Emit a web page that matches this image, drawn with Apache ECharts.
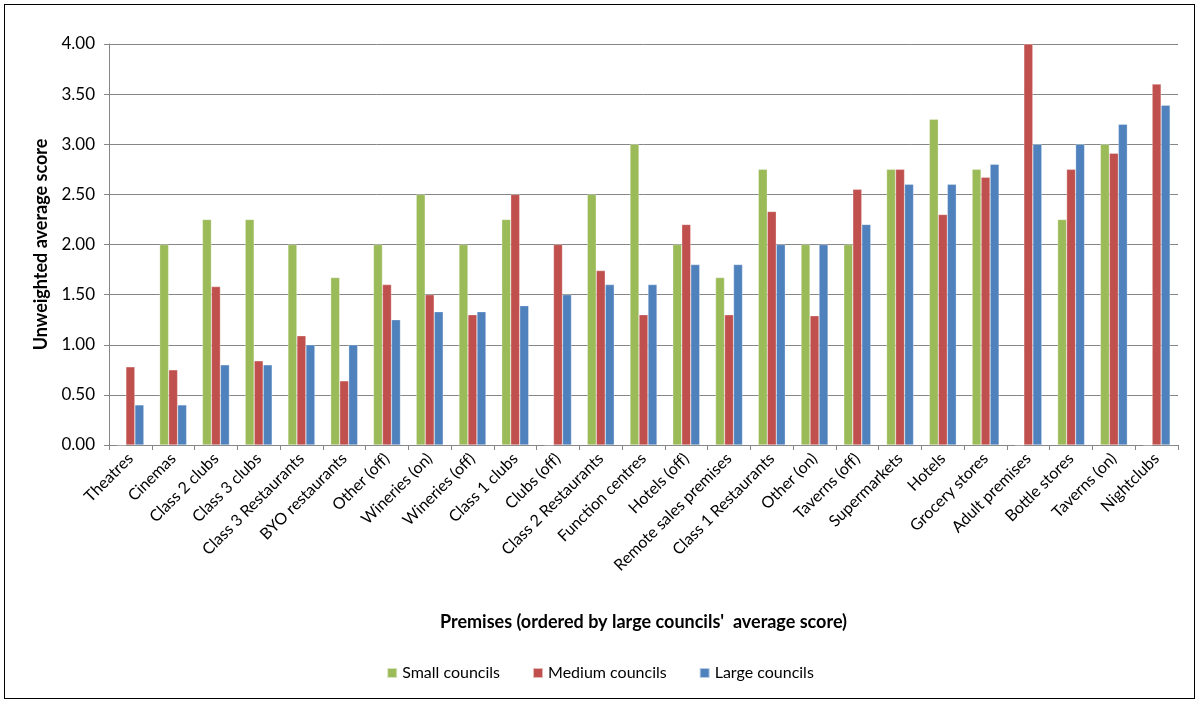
<!DOCTYPE html>
<html>
<head>
<meta charset="utf-8">
<script src="https://cdn.jsdelivr.net/npm/echarts@6/dist/echarts.min.js"></script>
<style>
  html, body { margin: 0; padding: 0; background: #fff; }
  #frame { position: absolute; left: 4px; top: 4px; width: 1191px; height: 695px; border: 1px solid #000; box-sizing: border-box; }
  #chart { width: 1200px; height: 704px; }
</style>
</head>
<body>
<div id="frame"></div>
<div id="chart"></div>
<script>
// Premise types, ordered by the large councils' average score
const categories = [
  'Theatres', 'Cinemas', 'Class 2 clubs', 'Class 3 clubs', 'Class 3 Restaurants',
  'BYO restaurants', 'Other (off)', 'Wineries (on)', 'Wineries (off)', 'Class 1 clubs',
  'Clubs (off)', 'Class 2 Restaurants', 'Function centres', 'Hotels (off)', 'Remote sales premises',
  'Class 1 Restaurants', 'Other (on)', 'Taverns (off)', 'Supermarkets', 'Hotels',
  'Grocery stores', 'Adult premises', 'Bottle stores', 'Taverns (on)', 'Nightclubs'
];

const smallCouncils = [
  0, 2.00, 2.25, 2.25, 2.00,
  1.67, 2.00, 2.50, 2.00, 2.25,
  0, 2.50, 3.00, 2.00, 1.67,
  2.75, 2.00, 2.00, 2.75, 3.25,
  2.75, 0, 2.25, 3.00, 0
];

const mediumCouncils = [
  0.78, 0.75, 1.58, 0.84, 1.09,
  0.64, 1.60, 1.50, 1.30, 2.50,
  2.00, 1.74, 1.30, 2.20, 1.30,
  2.33, 1.29, 2.55, 2.75, 2.30,
  2.67, 4.00, 2.75, 2.91, 3.60
];

const largeCouncils = [
  0.40, 0.40, 0.80, 0.80, 1.00,
  1.00, 1.25, 1.33, 1.33, 1.39,
  1.50, 1.60, 1.60, 1.80, 1.80,
  2.00, 2.00, 2.20, 2.60, 2.60,
  2.80, 3.00, 3.00, 3.20, 3.39
];

const seriesNames = ['Small councils', 'Medium councils', 'Large councils'];
const seriesColors = ['#9BBB59', '#C0504D', '#4F81BD'];

const FONT = 'Lato, "Open Sans", sans-serif';
const AXIS_GREY = '#868686';

const chart = echarts.init(document.getElementById('chart'), null, { renderer: 'canvas' });

const makeBar = (name, data, color) => ({
  name,
  type: 'bar',
  data,
  barWidth: 9,
  barGap: '0%',
  itemStyle: { color, borderColor: 'rgba(255,255,255,0.6)', borderWidth: 0.5 },
  emphasis: { disabled: true }
});

chart.setOption({
  animation: false,
  textStyle: { fontFamily: FONT },
  grid: { left: 109, right: 22, top: 44, bottom: 259, containLabel: false },
  legend: {
    bottom: 18,
    left: 'center',
    itemWidth: 10,
    itemHeight: 10,
    itemGap: 32,
    icon: 'rect',
    textStyle: { fontFamily: FONT, fontSize: 16, color: '#000' },
    data: seriesNames
  },
  xAxis: {
    type: 'category',
    data: categories,
    name: "Premises (ordered by large councils'  average score)",
    nameLocation: 'middle',
    nameGap: 168,
    nameTextStyle: { fontFamily: FONT, fontSize: 18, fontWeight: 'bold', color: '#000' },
    axisLine: { lineStyle: { color: AXIS_GREY, width: 1 } },
    axisTick: { show: true, alignWithLabel: false, length: 5, lineStyle: { color: AXIS_GREY } },
    axisLabel: {
      rotate: 45,
      interval: 0,
      margin: 11,
      fontFamily: FONT,
      fontSize: 16,
      color: '#000'
    }
  },
  yAxis: {
    type: 'value',
    min: 0,
    max: 4,
    interval: 0.5,
    name: 'Unweighted average score',
    nameLocation: 'middle',
    nameGap: 56,
    nameTextStyle: { fontFamily: FONT, fontSize: 18, fontWeight: 'bold', color: '#000' },
    axisLine: { show: true, lineStyle: { color: AXIS_GREY, width: 1 } },
    axisTick: { show: true, length: 5, lineStyle: { color: AXIS_GREY } },
    axisLabel: {
      margin: 14,
      fontFamily: FONT,
      fontSize: 17,
      color: '#000',
      formatter: v => v.toFixed(2)
    },
    splitLine: { show: true, lineStyle: { color: AXIS_GREY, width: 1 } }
  },
  series: [
    makeBar(seriesNames[0], smallCouncils, seriesColors[0]),
    makeBar(seriesNames[1], mediumCouncils, seriesColors[1]),
    makeBar(seriesNames[2], largeCouncils, seriesColors[2])
  ]
});
</script>
</body>
</html>
